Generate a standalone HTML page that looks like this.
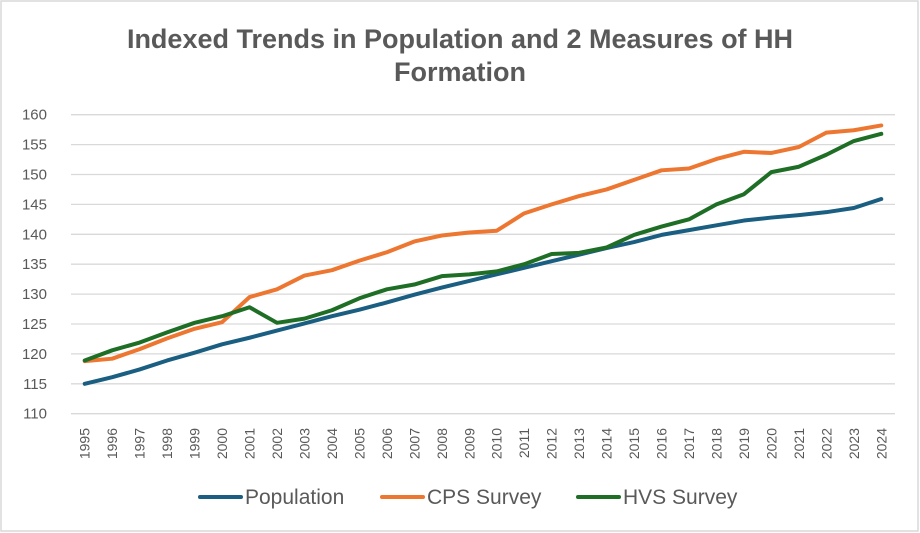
<!DOCTYPE html>
<html><head><meta charset="utf-8"><style>
html,body{margin:0;padding:0;background:#fff;}
svg{display:block;font-family:"Liberation Sans",sans-serif;}
</style></head><body>
<svg id="chart" width="920" height="533" viewBox="0 0 920 533">
<rect x="1" y="1" width="917" height="530" fill="#fff" stroke="#d9d9d9" stroke-width="1.5"/>
<text x="460" y="48" text-anchor="middle" font-size="27" font-weight="bold" fill="#595959">Indexed Trends in Population and 2 Measures of HH</text>
<text x="460" y="81" text-anchor="middle" font-size="27" font-weight="bold" fill="#595959">Formation</text>
<g id="grid"></g><g id="ylab"></g><g id="xlab"></g><g id="lines"></g>
<g>
<g><line x1="200" y1="497" x2="241" y2="497" stroke="#1a5e82" stroke-width="4" stroke-linecap="round"/><text x="245" y="504" font-size="21" fill="#595959">Population</text></g>
<g><line x1="382" y1="497" x2="423" y2="497" stroke="#ed7631" stroke-width="4" stroke-linecap="round"/><text x="427" y="504" font-size="21" fill="#595959">CPS Survey</text></g>
<g><line x1="578" y1="497" x2="619" y2="497" stroke="#1e6e26" stroke-width="4" stroke-linecap="round"/><text x="623" y="504" font-size="21" fill="#595959">HVS Survey</text></g>
</g>
</svg>
<script>
const years=[1995,1996,1997,1998,1999,2000,2001,2002,2003,2004,2005,2006,2007,2008,2009,2010,2011,2012,2013,2014,2015,2016,2017,2018,2019,2020,2021,2022,2023,2024];
const population=[115,116.1,117.4,118.9,120.2,121.6,122.7,123.9,125.1,126.3,127.4,128.6,129.9,131.1,132.2,133.3,134.4,135.5,136.6,137.7,138.7,139.9,140.7,141.5,142.3,142.8,143.2,143.7,144.4,145.9];
const cps=[118.8,119.2,120.8,122.6,124.2,125.3,129.5,130.8,133.1,134,135.6,137,138.8,139.8,140.3,140.6,143.5,145,146.4,147.5,149.1,150.7,151,152.6,153.8,153.6,154.6,157,157.4,158.2];
const hvs=[118.9,120.6,121.9,123.6,125.2,126.3,127.8,125.2,125.9,127.3,129.3,130.8,131.6,133,133.3,133.8,135,136.7,136.9,137.8,139.9,141.3,142.5,145,146.7,150.4,151.3,153.3,155.6,156.8];
const yTicks=[110,115,120,125,130,135,140,145,150,155,160];
const L=71,R=895,T=114.7,B=413.7,ymin=110,ymax=160;
const step=(R-L)/years.length;
const xs=i=>L+step*(i+0.5);
const ys=v=>B-(v-ymin)/(ymax-ymin)*(B-T);
const NS='http://www.w3.org/2000/svg';
function mk(tag,attrs,parent){const e=document.createElementNS(NS,tag);for(const k in attrs)e.setAttribute(k,attrs[k]);parent.appendChild(e);return e;}
const g=document.getElementById('grid'),yl=document.getElementById('ylab'),xl=document.getElementById('xlab'),ln=document.getElementById('lines');
yTicks.forEach(t=>{
 const l=mk('line',{x1:L,x2:R,y1:ys(t),y2:ys(t),stroke:'#d9d9d9','stroke-width':1.3},g);
 
 
 const tx=mk('text',{x:47,y:ys(t)+5,'text-anchor':'end','font-size':15,fill:'#595959'},yl);
 tx.textContent=t;
 
 
});
years.forEach((yr,i)=>{
 const x=xs(i)+5;
 const tx=mk('text',{x:x,y:428,'text-anchor':'end','font-size':14,fill:'#595959',transform:`rotate(-90 ${x} 428)`},xl);
 tx.textContent=yr;
 
 
});
[[population,'#1a5e82','population-line'],[cps,'#ed7631','cps-line'],[hvs,'#1e6e26','hvs-line']].forEach(([d,c,n])=>{
 const p=mk('polyline',{points:d.map((v,i)=>xs(i)+','+ys(v)).join(' '),fill:'none',stroke:c,'stroke-width':4,'stroke-linejoin':'round','stroke-linecap':'round'},ln);
 
 
});
</script>
</body></html>
